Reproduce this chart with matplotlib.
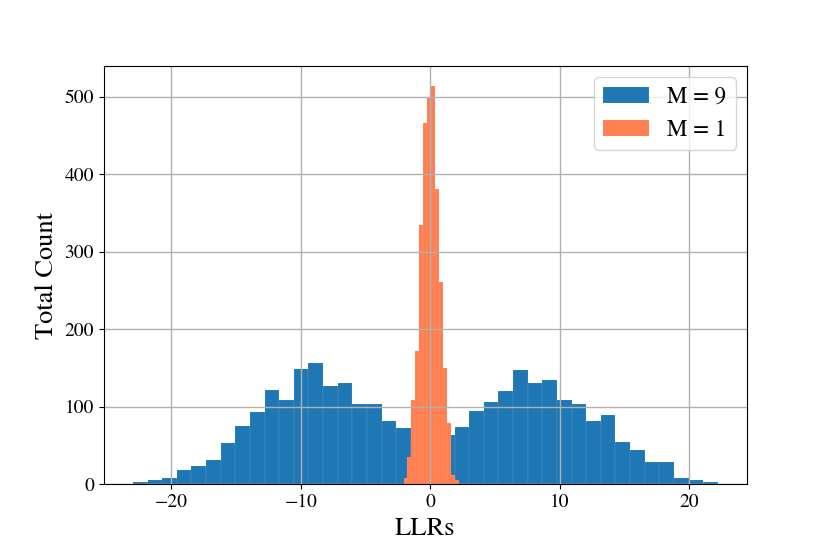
import numpy as np
import matplotlib
matplotlib.use("Agg")
import matplotlib.pyplot as plt

# Histogram counts (M = 9: 40 bins, M = 1: 14 bins)
m9_counts = [3, 5, 8, 18, 23, 31, 53, 75, 93, 122,
             109, 149, 157, 127, 131, 103, 103, 81, 73, 62,
             58, 64, 74, 94, 106, 120, 147, 131, 134, 108,
             103, 82, 89, 54, 44, 29, 29, 8, 6, 3]
m9_range = (-22.96, 22.22)

m1_counts = [8, 35, 108, 172, 334, 466, 499, 514, 381, 261, 150, 79, 12, 5]
m1_range = (-2.06, 2.216)

labels = ["M = 9", "M = 1"]

plt.rcParams["font.family"] = ["STIXGeneral", "DejaVu Serif"]
plt.rcParams["mathtext.fontset"] = "stix"

m9_edges = np.linspace(m9_range[0], m9_range[1], len(m9_counts) + 1)
m1_edges = np.linspace(m1_range[0], m1_range[1], len(m1_counts) + 1)

fig, ax = plt.subplots(figsize=(8.3, 5.54), dpi=100)
fig.subplots_adjust(left=0.125, right=0.9, bottom=0.126, top=0.881)

ax.hist(m9_edges[:-1], bins=m9_edges, weights=m9_counts, color="#1f77b4",
        edgecolor=(1, 1, 1, 0.2), linewidth=0.3, label=labels[0])
ax.hist(m1_edges[:-1], bins=m1_edges, weights=m1_counts, color="coral",
        edgecolor=(1, 1, 1, 0.15), linewidth=0.3, label=labels[1])

ax.grid(True, color="#b0b0b0", linewidth=1.0)
ax.set_xlabel("LLRs", fontsize=19)
ax.set_ylabel("Total Count", fontsize=19)
ax.tick_params(labelsize=14)
ax.legend(loc="upper right", fontsize=16.5)

fig.savefig("out.png", dpi=100)
